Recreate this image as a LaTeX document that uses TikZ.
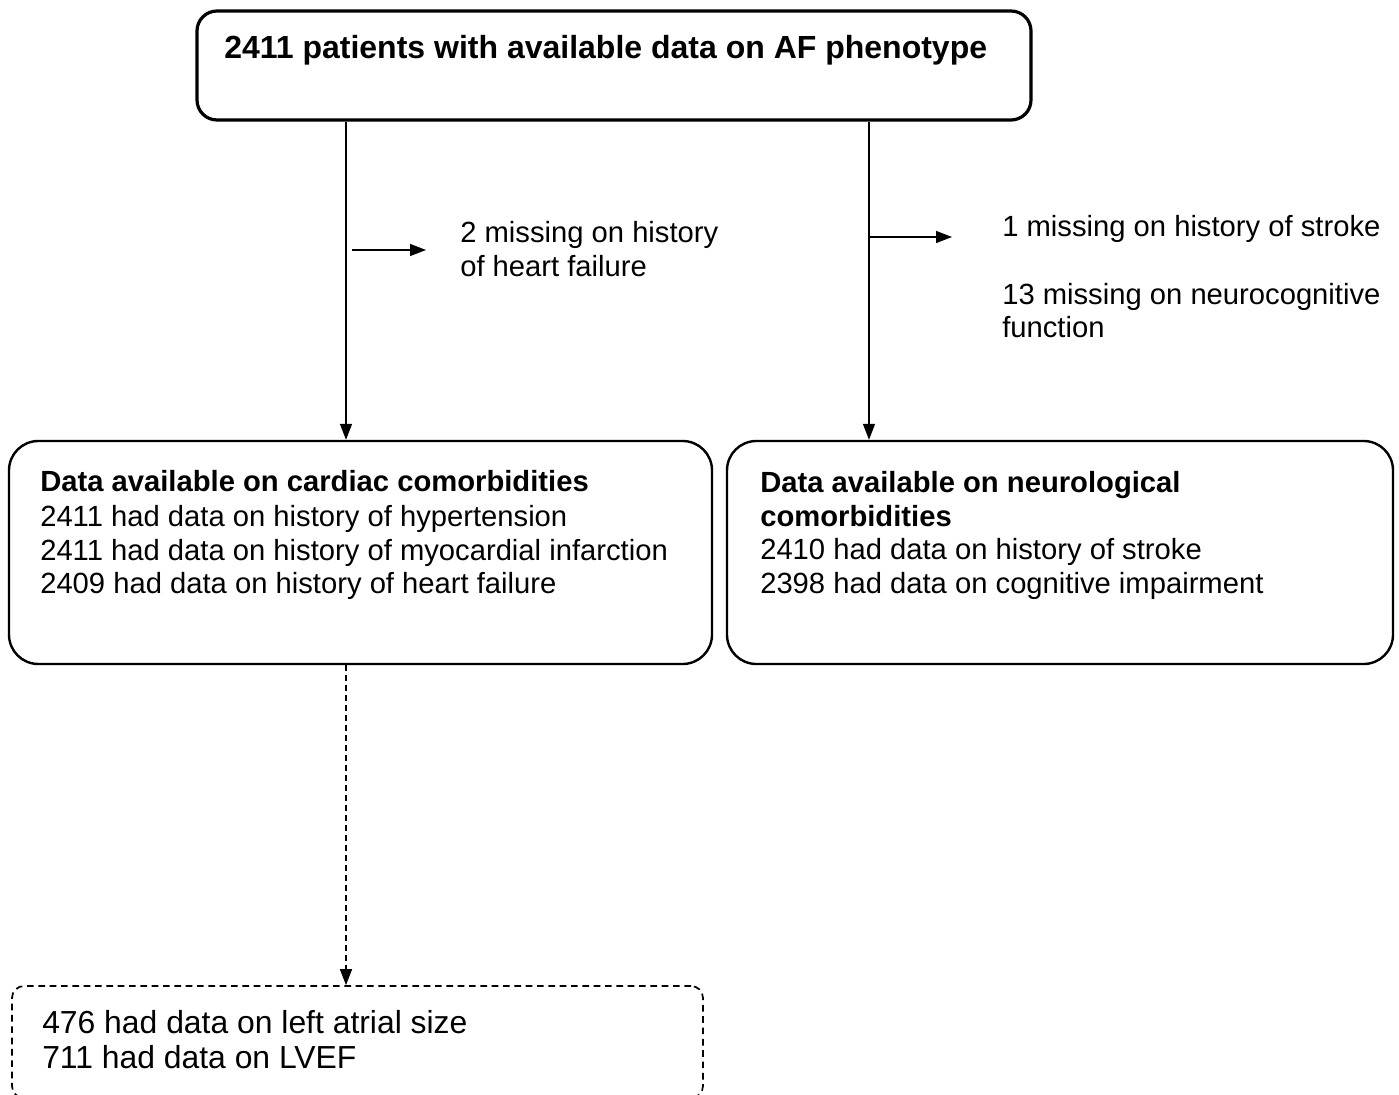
\documentclass[tikz,border=0pt]{standalone}
\usepackage{fontspec}
\setmainfont{Liberation Sans}
\usetikzlibrary{arrows.meta,fit}
\begin{document}
\begin{tikzpicture}[x=0.75pt,y=-0.75pt,
  topbox/.style={draw, line width=2.4pt, rounded corners=15pt, inner sep=0pt},
  mainbox/.style={draw, line width=1.8pt, rounded corners=22pt, inner sep=0pt},
  dashbox/.style={draw, line width=1.3pt, rounded corners=9pt, inner sep=0pt, dash pattern=on 5pt off 3.5pt},
  txt/.style={anchor=base west, inner sep=0pt, font=\fontsize{21.9}{25}\selectfont},
  ttl/.style={anchor=base west, inner sep=0pt, font=\fontsize{24}{28}\selectfont\bfseries},
  btxt/.style={anchor=base west, inner sep=0pt, font=\fontsize{23.9}{27}\selectfont},
  conn/.style={line width=1.1pt, -{Triangle[length=12pt,width=9pt]}},
  dconn/.style={conn, dash pattern=on 4.5pt off 3pt}
]
\useasboundingbox (0,0) rectangle (1399,1095);
\fill[white] (0,0) rectangle (1399,1095);

% boxes
\node[topbox, fit={(197,11) (1031,120)}] (top) {};
\node[mainbox, fit={(9,441) (712,664)}] (cardiac) {};
\node[mainbox, fit={(727,441) (1393,664)}] (neuro) {};
\node[dashbox, fit={(12,986) (703,1098)}] (echo) {};

% texts
\node[ttl] (ttltext) at (224,59) {2411 patients with available data on AF phenotype};

\node[txt] (m1a) at (460,242) {2 missing on history};
\node[txt] (m1b) at (460,276) {of heart failure};

\node[txt] (m2a) at (1002,236) {1 missing on history of stroke};
\node[txt] (m2b) at (1002,304) {13 missing on neurocognitive};
\node[txt] (m2c) at (1002,337) {function};

\node[txt] (c1) at (40,491) {\bfseries Data available on cardiac comorbidities};
\node[txt] (c2) at (40,526) {2411 had data on history of hypertension};
\node[txt] (c3) at (40,560) {2411 had data on history of myocardial infarction};
\node[txt] (c4) at (40,593) {2409 had data on history of heart failure};

\node[txt] (n1) at (760,492) {\bfseries Data available on neurological};
\node[txt] (n2) at (760,526) {\bfseries comorbidities};
\node[txt] (n3) at (760,559) {2410 had data on history of stroke};
\node[txt] (n4) at (760,593) {2398 had data on cognitive impairment};

\node[btxt] (e1) at (42,1033) {476 had data on left atrial size};
\node[btxt] (e2) at (42,1068) {711 had data on LVEF};

% connectors
\coordinate (lx) at (346,0);
\coordinate (rx) at (869,0);
\draw[conn] (top.south -| lx) -- (cardiac.north -| lx);
\draw[conn] (top.south -| rx) -- (neuro.north -| rx);
\coordinate (h1s) at (352,250);
\coordinate (h1e) at (426,250);
\draw[conn] (h1s) -- (h1e);
\coordinate (h2s) at (869,237);
\coordinate (h2e) at (952,237);
\draw[conn] (h2s) -- (h2e);
\draw[dconn] (cardiac.south -| lx) -- (echo.north -| lx);
\end{tikzpicture}
\end{document}
